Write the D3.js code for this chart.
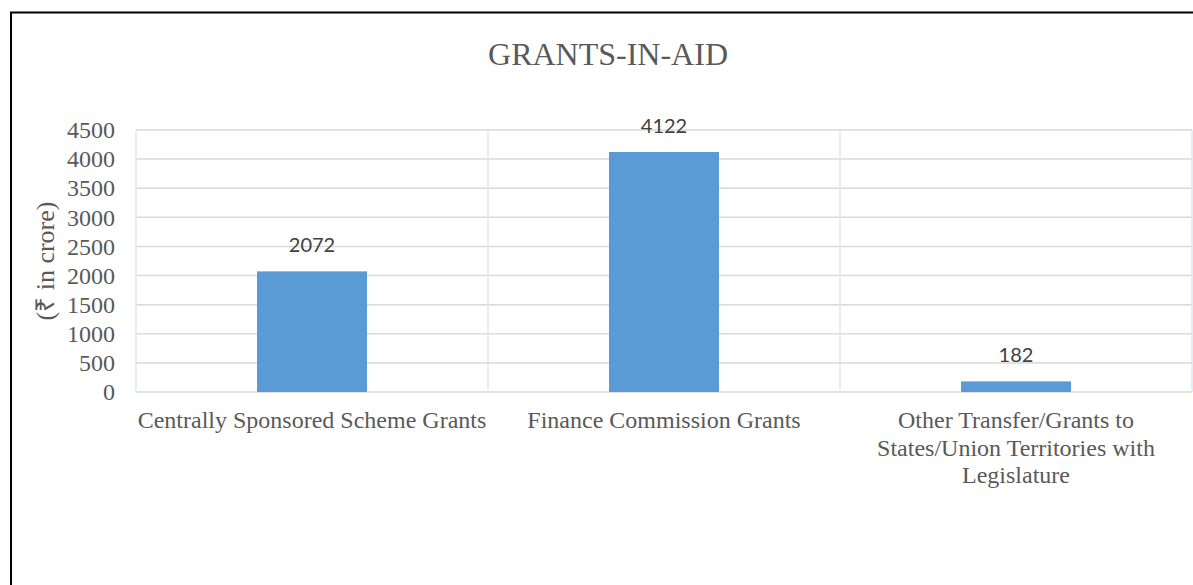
<!DOCTYPE html>
<html>
<head>
<meta charset="utf-8">
<script src="https://cdn.jsdelivr.net/npm/d3@7"></script>
<style>
  body { margin: 0; background: #fff; }
</style>
</head>
<body>
<div id="chart"></div>
<script>
const w = 1193;
const h = 585;

const categories = [
  'Centrally Sponsored Scheme Grants',
  'Finance Commission Grants',
  'Other Transfer/Grants to States/Union Territories with Legislature'
];
const categoryLines = [
  ['Centrally Sponsored Scheme Grants'],
  ['Finance Commission Grants'],
  ['Other Transfer/Grants to', 'States/Union Territories with', 'Legislature']
];
const values = [2072, 4122, 182];
const yTicks = [0, 500, 1000, 1500, 2000, 2500, 3000, 3500, 4000, 4500];

const margin = { left: 136, right: 1, top: 130, bottom: 193 };
const serif = '"Liberation Serif", "Times New Roman", serif';

const svg = d3.select('#chart')
  .append('svg')
  .attr('width', w)
  .attr('height', h);

// outer frame (runs off right and bottom)
svg.append('rect')
  .attr('x', 11)
  .attr('y', 12.5)
  .attr('width', 1300)
  .attr('height', 700)
  .attr('fill', 'none')
  .attr('stroke', '#000')
  .attr('stroke-width', 2);

const x = d3.scaleBand()
  .domain(categories)
  .range([margin.left, w - margin.right])
  .paddingInner(0.6875)
  .paddingOuter(0.34375);

const xCat = d3.scaleBand()
  .domain(categories)
  .range([margin.left, w - margin.right]);

const y = d3.scaleLinear()
  .domain([0, 4500])
  .range([h - margin.bottom, margin.top]);

// horizontal gridlines
svg.append('g')
  .selectAll('line')
  .data(yTicks)
  .enter()
  .append('line')
  .attr('x1', margin.left)
  .attr('x2', w - margin.right)
  .attr('y1', d => y(d))
  .attr('y2', d => y(d))
  .attr('stroke', '#d9d9d9')
  .attr('stroke-width', 1.5);

// vertical dividers
const divs = categories.map(c => xCat(c)).concat([xCat(categories[2]) + xCat.bandwidth()]);
svg.append('g')
  .selectAll('line')
  .data(divs)
  .enter()
  .append('line')
  .attr('x1', d => d)
  .attr('x2', d => d)
  .attr('y1', y(4500))
  .attr('y2', y(0))
  .attr('stroke', '#dbe8f6')
  .attr('stroke-width', 1.5);

// bars
svg.append('g')
  .selectAll('rect')
  .data(values)
  .enter()
  .append('rect')
  .attr('x', (d, i) => x(categories[i]))
  .attr('width', x.bandwidth())
  .attr('y', d => y(d))
  .attr('height', d => y(0) - y(d))
  .attr('fill', '#5b9bd5');

// value labels
svg.append('g')
  .selectAll('text')
  .data(values)
  .enter()
  .append('text')
  .attr('x', (d, i) => x(categories[i]) + x.bandwidth() / 2)
  .attr('y', d => y(d) - 19)
  .attr('text-anchor', 'middle')
  .style('font-family', 'Lato, "Open Sans", sans-serif')
  .style('font-size', '20px')
  .style('fill', '#404040')
  .text(d => d);

// y axis labels
const yAxis = d3.axisLeft(y).tickValues(yTicks).tickFormat(d3.format('d')).tickSize(0).tickPadding(21);
const yg = svg.append('g')
  .attr('transform', 'translate(' + margin.left + ',0)')
  .call(yAxis);
yg.select('.domain').remove();
yg.selectAll('text')
  .style('font-family', serif)
  .style('font-size', '24px')
  .style('fill', '#595959');

// x category labels
const xl = svg.append('g');
categoryLines.forEach((lines, i) => {
  const t = xl.append('text')
    .attr('x', xCat(categories[i]) + xCat.bandwidth() / 2)
    .attr('y', y(0) + 36)
    .attr('text-anchor', 'middle')
    .style('font-family', serif)
    .style('font-size', '24px')
    .style('fill', '#595959');
  lines.forEach((ln, j) => {
    t.append('tspan')
      .attr('x', xCat(categories[i]) + xCat.bandwidth() / 2)
      .attr('dy', j === 0 ? 0 : 27.5)
      .text(ln);
  });
});

// y axis title
svg.append('text')
  .attr('transform', 'rotate(-90)')
  .attr('x', -(y(0) + y(4500)) / 2)
  .attr('y', 54)
  .attr('text-anchor', 'middle')
  .style('font-family', serif)
  .style('font-size', '26px')
  .style('fill', '#595959')
  .text('(₹ in crore)');

// title
svg.append('text')
  .attr('x', 608)
  .attr('y', 65)
  .attr('text-anchor', 'middle')
  .style('font-family', serif)
  .style('font-size', '32px')
  .style('fill', '#595959')
  .text('GRANTS-IN-AID');
</script>
</body>
</html>
